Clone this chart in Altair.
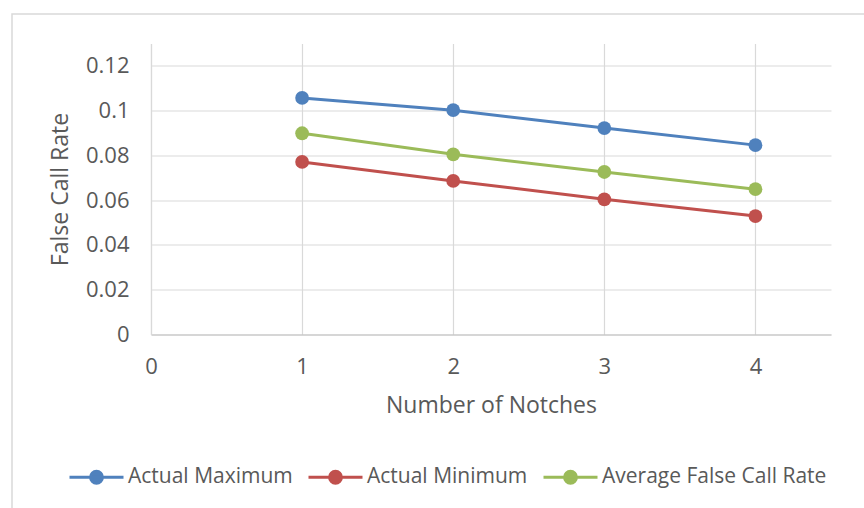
import altair as alt
import pandas as pd

# Series values per number of notches
notches = [1, 2, 3, 4]
actual_max = [0.1057, 0.1002, 0.0922, 0.0846]
actual_min = [0.0771, 0.0686, 0.0604, 0.0529]
avg_rate = [0.0899, 0.0805, 0.0726, 0.0649]

series_names = ["Actual Maximum", "Actual Minimum", "Average False Call Rate"]
series_colors = ["#4f81bd", "#c0504d", "#9bbb59"]

x_ticks = [0, 1, 2, 3, 4]
y_ticks = [0, 0.02, 0.04, 0.06, 0.08, 0.1, 0.12]

rows = []
for name, vals in zip(series_names, [actual_max, actual_min, avg_rate]):
    for n, v in zip(notches, vals):
        rows.append({"notches": n, "rate": v, "series": name})
df = pd.DataFrame(rows)

FONT = "Open Sans"
TXT = "#595959"
GRID = "#d9d9d9"

# legend glyph: a short line with a dot in the middle
r = 0.22
legend_path = (
    f"M-1,0H1M{r},0A{r},{r},0,1,1,{-r},0A{r},{r},0,1,1,{r},0Z"
)

scale = alt.Scale(domain=series_names, range=series_colors)

x_enc = alt.X(
    "notches:Q",
    scale=alt.Scale(domain=[0, 4.5], nice=False, zero=True),
    axis=alt.Axis(
        values=x_ticks, title="Number of Notches", format="d",
        grid=True, gridColor=GRID, ticks=False, domain=True,
        domainColor="#bfbfbf", labelPadding=22, labelFlush=False,
        titlePadding=17,
    ),
)
y_enc = alt.Y(
    "rate:Q",
    scale=alt.Scale(domain=[0, 0.13], nice=False),
    axis=alt.Axis(
        values=y_ticks, title="False Call Rate", format="~g",
        grid=True, gridColor=GRID, ticks=False, domain=True,
        domainColor=GRID, labelPadding=22, titlePadding=13,
    ),
)

legend = alt.Legend(
    title=None, orient="none", direction="horizontal",
    legendX=-83, legendY=405,
    symbolType=legend_path, symbolSize=2916, symbolStrokeWidth=3,
    labelFont=FONT, labelFontSize=21, labelColor=TXT, labelLimit=400,
    labelOffset=3, columnPadding=9,
)

lines = alt.Chart(df).mark_line(strokeWidth=3).encode(
    x=x_enc, y=y_enc,
    stroke=alt.Stroke("series:N", scale=scale, legend=legend,
                      sort=series_names),
    detail="series:N",
)
points = alt.Chart(df).mark_point(filled=True, size=190, opacity=1).encode(
    x="notches:Q", y="rate:Q",
    fill=alt.Fill("series:N", scale=scale, legend=legend, sort=series_names),
)

# light frame around the chart area
frame = alt.Chart(pd.DataFrame({"a": [0]})).mark_rect(
    fill=None, stroke=GRID, strokeWidth=1.5, clip=False
).encode(
    x=alt.value(-139), x2=alt.value(760),
    y=alt.value(-29.5), y2=alt.value(500),
)

chart = alt.layer(frame, lines, points).properties(
    width=680, height=291,
    autosize=alt.AutoSizeParams(type="none"),
    padding={"left": 151, "top": 43.5, "right": 33, "bottom": 173.5},
    background="white",
).configure_view(stroke=None).configure_axis(
    labelFont=FONT, labelFontSize=22, labelColor=TXT,
    titleFont=FONT, titleFontSize=23, titleColor=TXT, titleFontWeight="normal",
    gridWidth=1.2, domainWidth=1.2,
).resolve_scale(fill="shared", stroke="shared")

chart.save("out.html", embed_options={"renderer": "svg", "actions": False})
